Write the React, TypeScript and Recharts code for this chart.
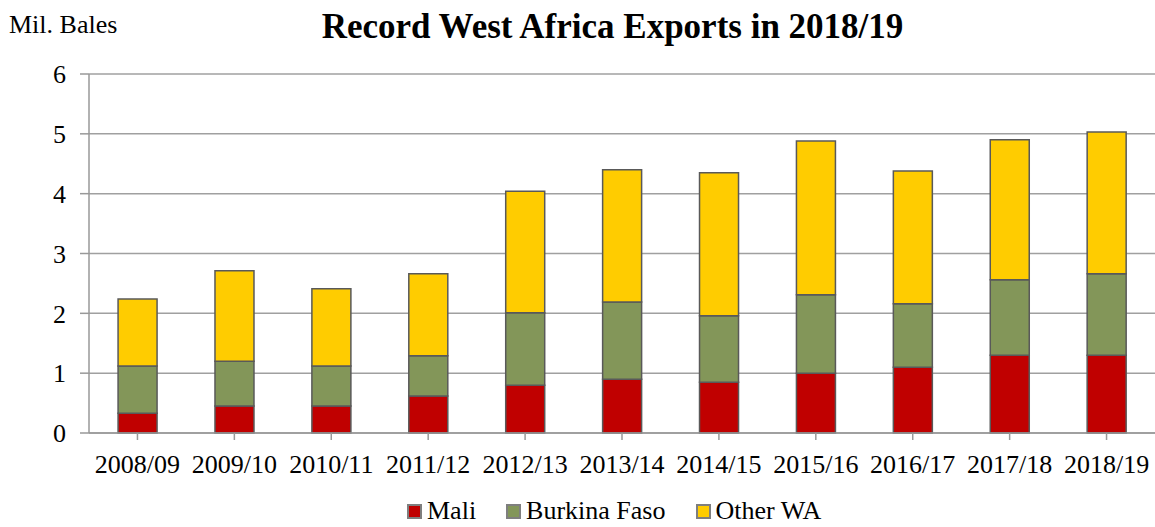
import {BarChart, Bar, XAxis, YAxis, CartesianGrid} from "recharts";

const seasons = ["2008/09", "2009/10", "2010/11", "2011/12", "2012/13", "2013/14", "2014/15", "2015/16", "2016/17", "2017/18", "2018/19"];
const mali = [0.33, 0.45, 0.45, 0.62, 0.8, 0.9, 0.85, 1.0, 1.1, 1.3, 1.3];
const burkina = [0.79, 0.75, 0.67, 0.67, 1.21, 1.29, 1.11, 1.31, 1.06, 1.26, 1.36];
const otherWA = [1.12, 1.51, 1.29, 1.37, 2.03, 2.21, 2.39, 2.57, 2.22, 2.34, 2.37];
const yTicks = [0, 1, 2, 3, 4, 5, 6];

const seriesNames = ["Mali", "Burkina Faso", "Other WA"];
const seriesColors = ["#C00000", "#839659", "#FFCC00"];

const data = seasons.map((s, i) => ({
  season: s,
  Mali: mali[i],
  "Burkina Faso": burkina[i],
  "Other WA": otherWA[i]
}));

const FONT = "'Liberation Serif', 'Times New Roman', serif";

const App = () => {
  return (<div style={{position: "absolute", left: 0, top: 0, width: 1155, height: 527, background: "#fff", fontFamily: FONT}}>
    <div style={{position: "absolute", left: 9, top: 10, fontSize: 26, color: "#000"}}>Mil. Bales</div>
    <div style={{position: "absolute", left: 0, width: 1225, top: 7, textAlign: "center", fontSize: 35, fontWeight: "bold", color: "#000"}}>
      Record West Africa Exports in 2018/19
    </div>
    <BarChart width={1155} height={527} data={data} margin={{top: 74, right: 0, left: 0, bottom: 24}} barCategoryGap="30%">
      <CartesianGrid vertical={false} stroke="#a0a0a0" strokeWidth={1.5}/>
      <XAxis dataKey="season" height={70} tickSize={7} tickMargin={15} stroke="#999" strokeWidth={1.5}
        tick={{fill: "#000", fontSize: 26, fontFamily: FONT}} interval={0}/>
      <YAxis width={89} domain={[0, 6]} ticks={yTicks} tickSize={9} tickMargin={14} stroke="#999" strokeWidth={1.5}
        tick={{fill: "#000", fontSize: 26, fontFamily: FONT}}/>
      <Bar dataKey="Mali" stackId="a" fill={seriesColors[0]} stroke="#595959" strokeWidth={1.5} isAnimationActive={false}/>
      <Bar dataKey="Burkina Faso" stackId="a" fill={seriesColors[1]} stroke="#595959" strokeWidth={1.5} isAnimationActive={false}/>
      <Bar dataKey="Other WA" stackId="a" fill={seriesColors[2]} stroke="#595959" strokeWidth={1.5} isAnimationActive={false}/>
    </BarChart>
    {/* legend */}
    <div style={{position: "absolute", left: 407, top: 497, height: 28, display: "flex", alignItems: "center", fontSize: 26, lineHeight: "28px", color: "#000", whiteSpace: "nowrap"}}>
      {seriesNames.map((n, i) => (
        <div key={n} style={{display: "flex", alignItems: "center", marginRight: i < 2 ? 30 : 0}}>
          <span style={{display: "inline-block", width: 11, height: 11, background: seriesColors[i], border: "2px solid #7f7f7f", marginRight: 5}}/>
          <span>{n}</span>
        </div>
      ))}
    </div>
  </div>);
};

export default App;
